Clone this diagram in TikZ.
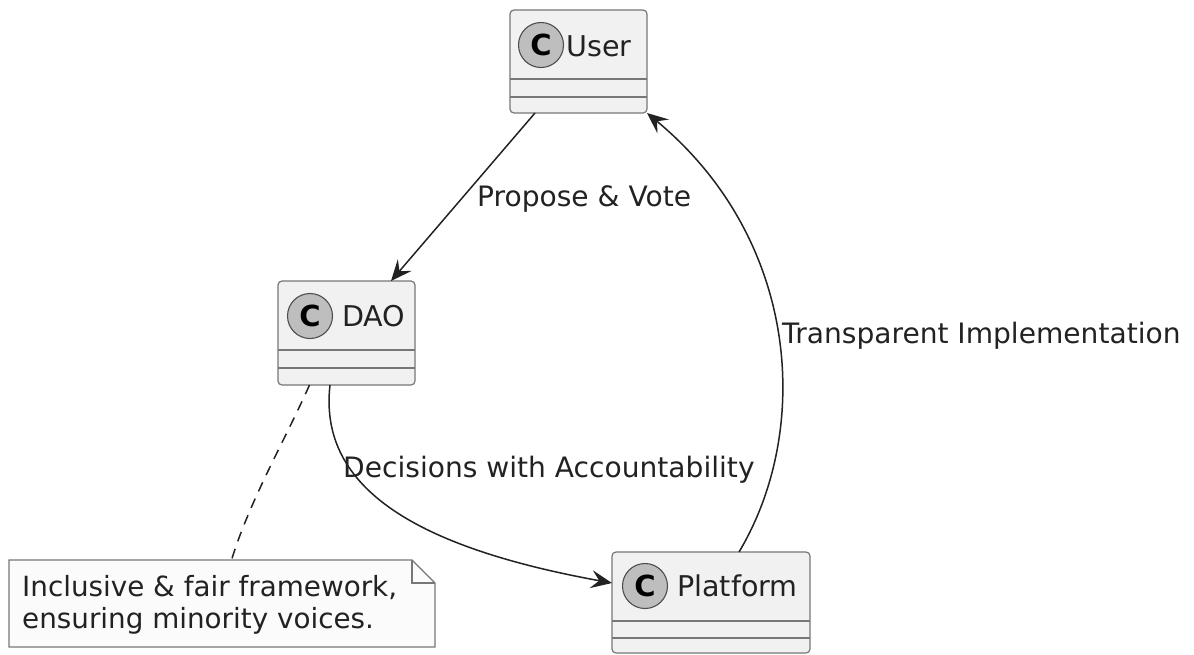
\documentclass[tikz,border=0pt]{standalone}
\usepackage{fontspec}
\setmainfont{DejaVu Sans}
\usetikzlibrary{arrows.meta}
\definecolor{boxfill}{HTML}{F1F1F1}
\definecolor{boxline}{HTML}{777777}
\definecolor{edgecol}{HTML}{222222}
\definecolor{circfill}{HTML}{BEBEBE}
\definecolor{notefill}{HTML}{FBFBFB}
\definecolor{txt}{HTML}{222222}
\begin{document}
\begin{tikzpicture}[x=1pt,y=-1pt,
  classbox/.style={draw=boxline, fill=boxfill, line width=1.2pt, rounded corners=4pt,
    anchor=north west, inner sep=0pt, outer sep=0pt},
  divider/.style={draw=boxline, line width=1.2pt},
  circ/.style={circle, draw=edgecol!80, fill=circfill, line width=1.1pt, minimum size=45pt,
    inner sep=0pt, text=black, font=\fontsize{29}{29}\selectfont\bfseries},
  cname/.style={anchor=base west, inner sep=0pt, text=txt, font=\fontsize{28.6}{34}\selectfont},
  elabel/.style={anchor=base west, inner sep=0pt, text=txt, font=\fontsize{28.1}{33}\selectfont},
  conn/.style={draw=edgecol, line width=1.5pt, -{Stealth[length=21pt,width=18pt,inset=8pt]}},
  noteconn/.style={draw=edgecol, line width=1.5pt, dash pattern=on 10pt off 8pt},
]
\useasboundingbox (0,0) rectangle (1194,654);

% User
\node[classbox, minimum width=137pt, minimum height=103pt] (user) at (510,10) {};
\draw[divider] (user.west |- 0,79) -- (user.east |- 0,79);
\draw[divider] (user.west |- 0,97) -- (user.east |- 0,97);
\node[circ] (userc) at (541,45) {C};
\node[cname] (usert) at (566,56) {User};

% DAO
\node[classbox, minimum width=137pt, minimum height=104pt] (dao) at (278,281) {};
\draw[divider] (dao.west |- 0,350) -- (dao.east |- 0,350);
\draw[divider] (dao.west |- 0,368) -- (dao.east |- 0,368);
\node[circ] (daoc) at (310,316) {C};
\node[cname] (daot) at (342,326) {DAO};

% Platform
\node[classbox, minimum width=198pt, minimum height=101pt] (plat) at (612,552) {};
\draw[divider] (plat.west |- 0,621) -- (plat.east |- 0,621);
\draw[divider] (plat.west |- 0,638) -- (plat.east |- 0,638);
\node[circ] (platc) at (645,586) {C};
\node[cname] (platt) at (677,596) {Platform};

% Note
\node[anchor=north west, minimum width=426pt, minimum height=87pt, inner sep=0pt, outer sep=0pt] (note) at (9,560) {};
\draw[draw=boxline, fill=notefill, line width=1.2pt]
  (note.north west) -- ([xshift=-23pt]note.north east) -- ([yshift=-23pt]note.north east)
  -- (note.south east) -- (note.south west) -- cycle;
\draw[draw=boxline, line width=1.2pt]
  ([xshift=-23pt]note.north east) -- ([xshift=-23pt,yshift=-23pt]note.north east) -- ([yshift=-23pt]note.north east);
\node[elabel, align=left, font=\fontsize{27.8}{31.5}\selectfont] (notet) at (22,628)
  {Inclusive \& fair framework,\\ensuring minority voices.};

% Connectors
\draw[conn] ([xshift=-43.5pt]user.south) -- ([xshift=113pt]dao.north west);
\node[elabel] (l1) at (477,206) {Propose \& Vote};
\draw[conn] ([xshift=-16.5pt]dao.south) .. controls (318,490) and (420,548) .. ([yshift=-31pt]plat.north west);
\node[elabel] (l2) at (343,477) {Decisions with Accountability};
\draw[conn] ([xshift=-71pt]plat.north east) .. controls (812,430) and (800,240) .. (user.south east);
\node[elabel] (l3) at (782,343) {Transparent Implementation};
\draw[noteconn] ([xshift=-37pt]dao.south) .. controls (285,440) and (250,500) .. ([xshift=9.5pt]note.north);
\end{tikzpicture}
\end{document}
